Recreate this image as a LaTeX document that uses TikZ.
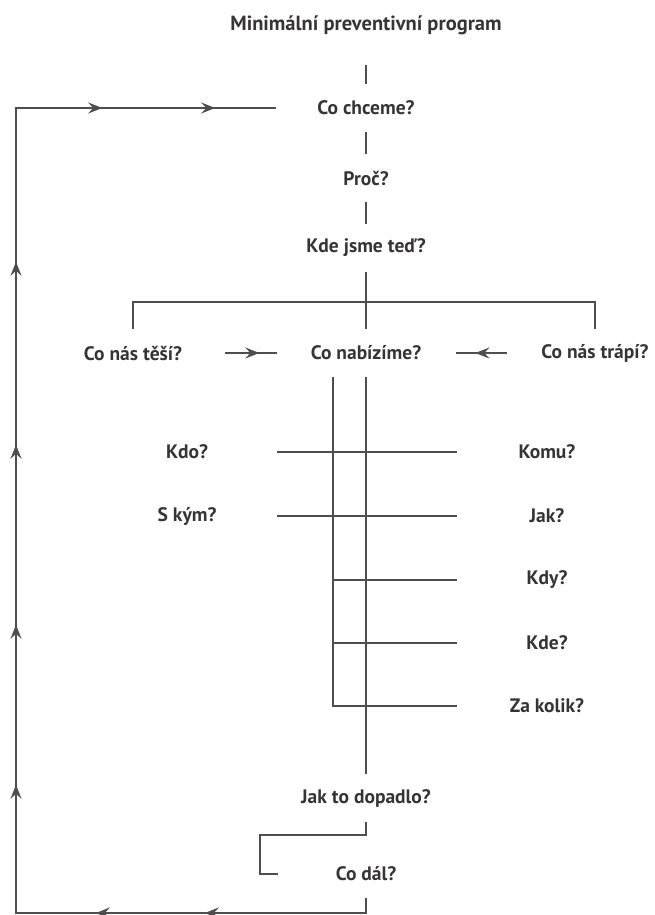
\documentclass[tikz,border=0pt]{standalone}
\usepackage{fontspec}
\setmainfont{PT Sans}
\usepackage{xcolor}
\usetikzlibrary{arrows.meta,calc,decorations.markings}
\definecolor{inkgray}{HTML}{363434}
\definecolor{linegray}{HTML}{4F4D4D}

\begin{document}
\begin{tikzpicture}[
    >={Stealth[length=14pt,width=11pt,inset=5pt]},
    x=1pt, y=1pt,
    ask/.style={text=inkgray,font=\fontsize{19.5}{23}\selectfont\bfseries,
                inner sep=0pt,minimum height=48pt},
    rowlabel/.style={ask,minimum width=180pt},
    wire/.style={draw=linegray,line width=1.8pt},
    pushin/.style={wire,postaction={decorate},decoration={markings,
                   mark=at position #1 with {\arrow{>}}}},
    pushin/.default=0.6,
    cycleback/.style={wire,postaction={decorate},decoration={markings,
                   mark=at position 176pt with {\arrow{>}},
                   mark=at position 285pt with {\arrow{>}},
                   mark=at position 493pt with {\arrow{>}},
                   mark=at position 653pt with {\arrow{>}},
                   mark=at position 833pt with {\arrow{>}},
                   mark=at position 1016pt with {\arrow{>}},
                   mark=at position 1256pt with {\arrow{>}},
                   mark=at position 1369pt with {\arrow{>}}}},
  ]

  \useasboundingbox (0,0) rectangle (655,-915);

  % --- main column ---
  \node[ask,minimum height=80pt,font=\fontsize{20.5}{24}\selectfont\bfseries]
       (title) at (366,-25) {Minimální preventivní program};
  \node[ask] (want) at (366,-108) {Co chceme?};
  \node[ask] (why)  at (366,-178) {Proč?};
  \node[ask] (now)  at (366,-248) {Kde jsme teď?};

  \draw[wire] (title) -- (want);
  \draw[wire] (want) -- (why);
  \draw[wire] (why) -- (now);

  % --- three-way split ---
  \node[ask] (joy)   at (133,-353) {Co nás těší?};
  \node[ask] (offer) at (366,-353) {Co nabízíme?};
  \node[ask] (worry) at (595,-353) {Co nás trápí?};

  \coordinate (fork) at (366,-302);
  \draw[wire] (joy.north) |- (fork) -| (worry.north);
  \draw[wire] (now) -- (offer);
  \draw[pushin=0.66] ($(joy)!0.395!(offer)$) -- ($(joy)!0.618!(offer)$);
  \draw[pushin=0.62] ($(worry)!0.384!(offer)$) -- ($(worry)!0.607!(offer)$);

  % --- who / whom rows on the two rails ---
  \node[rowlabel] (who)   at (187,-452) {Kdo?};
  \node[rowlabel] (with)  at (187,-516) {S kým?};
  \node[rowlabel] (whom)  at (547,-452) {Komu?};
  \node[rowlabel] (how)   at (547,-516) {Jak?};
  \node[rowlabel] (when)  at (547,-580) {Kdy?};
  \node[rowlabel] (where) at (547,-643) {Kde?};
  \node[rowlabel] (cost)  at (547,-706) {Za kolik?};

  \node[ask] (result) at (366,-798) {Jak to dopadlo?};
  \node[ask] (next)   at (366,-874) {Co dál?};

  \coordinate (railL) at (333,-377);
  \draw[wire] (offer) -- (result);
  \draw[wire] (railL) |- (cost.west);
  \draw[wire] (who) -- (whom);
  \draw[wire] (with) -- (how);
  \draw[wire] (when.west) -- (when.west -| railL);
  \draw[wire] (where.west) -- (where.west -| railL);

  % --- evaluation and back to the start ---
  \coordinate (backL) at (260,-835);
  \coordinate (backE) at (278,-874);
  \draw[wire] (result.south) |- (backL) |- (backE);

  \coordinate (loopB)  at (16,-913);
  \coordinate (loopT)  at (16,-108);
  \coordinate (loopin) at (276,-108);
  \draw[cycleback] (next.south) |- (loopB) -- (loopT) -- (loopin);

\end{tikzpicture}
\end{document}
